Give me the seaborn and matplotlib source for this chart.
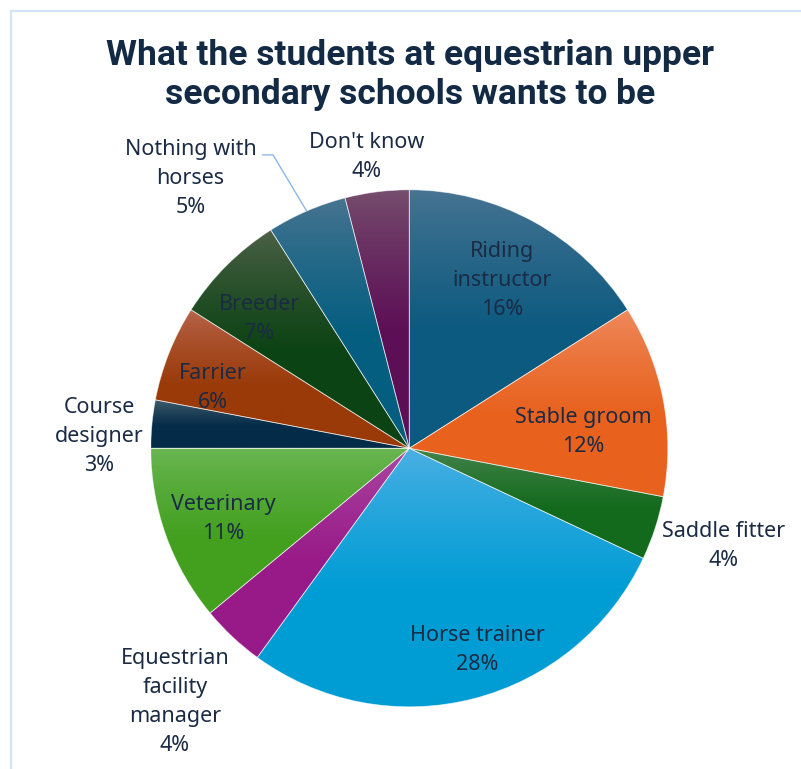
import numpy as np
import matplotlib
matplotlib.use("Agg")
import matplotlib.pyplot as plt
import seaborn as sns
from matplotlib.colors import to_rgb
from matplotlib.patches import Rectangle

# Career wishes, clockwise from twelve o'clock
careers = ["Riding\ninstructor", "Stable groom", "Saddle fitter", "Horse trainer",
           "Equestrian\nfacility\nmanager", "Veterinary", "Course\ndesigner",
           "Farrier", "Breeder", "Nothing with\nhorses", "Don't know"]
shares = [16, 12, 4, 28, 4, 11, 3, 6, 7, 5, 4]
title = "What the students at equestrian upper\nsecondary schools wants to be"

# Vertical gradient per slice: lighter tone at the top, full tone below
top_colors = ["#4a7593", "#ef8a5e", "#4a8652", "#4eb0e3", "#ab4ba3", "#6bb655",
              "#46606f", "#b8664d", "#4f6249", "#4a7591", "#76506e"]
base_colors = ["#0c5a80", "#e8621e", "#136a1c", "#009dd5", "#981a88", "#43a01f",
               "#042c48", "#9a3a09", "#0c4314", "#045e80", "#5d0f56"]

# Label anchors in pie-radius units (centre of each text block)
label_xy = [(0.359, 0.651), (0.673, 0.064), (1.214, -0.378), (0.262, -0.780),
            (-0.907, -0.983), (-0.721, -0.275), (-1.200, 0.044), (-0.761, 0.233),
            (-0.580, 0.499), (-0.846, 1.044), (-0.164, 1.127)]

text_color = "#1b2b44"
title_color = "#132a45"

sns.set_theme(style="white")
plt.rcParams["font.family"] = ["Noto Sans", "DejaVu Sans"]

W, H = 801, 769
fig = plt.figure(figsize=(W / 100, H / 100), dpi=100)
fig.patch.set_facecolor("white")
ax = fig.add_axes([0, 0, 1, 1])

palette = sns.color_palette(base_colors)
wedges, _ = ax.pie(shares, startangle=90, counterclock=False, colors=palette,
                   radius=1.0, center=(0, 0),
                   wedgeprops=dict(edgecolor=(1, 1, 1, 0.55), linewidth=0.6))

# pie-radius units: centre at (409.3, 448.3) px, radius 258.5 px
R_PX, CX, CY = 258.5, 409.3, 448.3

# gradient fill clipped to each wedge
n = 256
for w, c_top, c_bot in zip(wedges, top_colors, base_colors):
    t1, t2 = np.deg2rad(w.theta1), np.deg2rad(w.theta2)
    th = np.linspace(t1, t2, 200)
    xs = np.concatenate([[0], np.cos(th)])
    ys = np.concatenate([[0], np.sin(th)])
    x0, x1, y0, y1 = xs.min(), xs.max(), ys.min(), ys.max()
    t = np.linspace(0, 1, n)
    f = np.clip(t / 0.55, 0, 1) ** 0.8
    a, b = np.array(to_rgb(c_top)), np.array(to_rgb(c_bot))
    grad = (a[None, :] + (b - a)[None, :] * f[:, None])[:, None, :]
    im = ax.imshow(grad, extent=[x0, x1, y0, y1], origin="upper", aspect="auto",
                   interpolation="bilinear", zorder=2)
    im.set_clip_path(w)
    w.set_facecolor("none")
    w.set_zorder(3)

ax.set_xlim(-CX / R_PX, (W - CX) / R_PX)
ax.set_ylim(-(H - CY) / R_PX, CY / R_PX)
ax.set_aspect("auto")
ax.axis("off")

# data labels
for name, val, (lx, ly) in zip(careers, shares, label_xy):
    ax.text(lx, ly, f"{name}\n{val}%", ha="center", va="center", fontsize=15.5,
            color=text_color, linespacing=1.5, zorder=5)

# leader line for the "Nothing with horses" slice
k = 9
mid = np.deg2rad((wedges[k].theta1 + wedges[k].theta2) / 2)
lx0, lx1, ly0 = -0.570, -0.527, 1.135
ax.plot([lx0, lx1, np.cos(mid)], [ly0, ly0, np.sin(mid)], color="#8db8e8",
        lw=1.0, zorder=4, solid_capstyle="butt")

# title
fig.text(410 / W, 1 - 75 / H, title, ha="center", va="center", fontsize=25.5,
         fontweight="bold", color=title_color, family=["Roboto", "DejaVu Sans"],
         linespacing=1.22)

# chart-area frame
fig.patches.append(Rectangle((11 / W, -0.05), 1.1, 1 - 11 / H + 0.05,
                             transform=fig.transFigure, fill=False,
                             edgecolor="#d3e3f6", linewidth=1.5, zorder=0))

fig.savefig("out.png", dpi=100, facecolor="white")
